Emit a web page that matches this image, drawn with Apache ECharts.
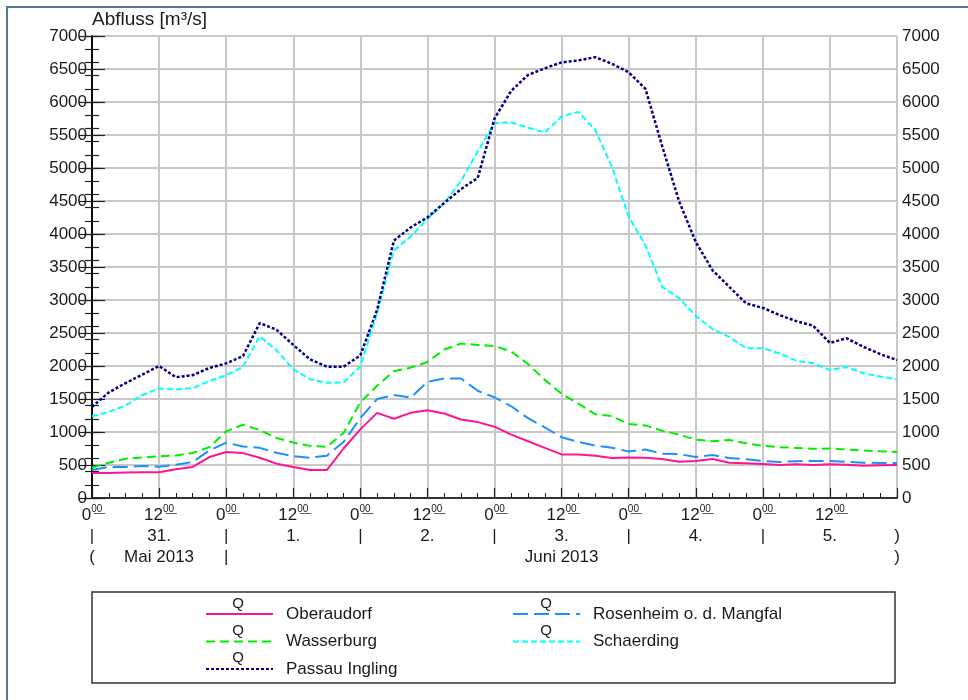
<!DOCTYPE html>
<html><head><meta charset="utf-8">
<script src="https://cdn.jsdelivr.net/npm/echarts@6/dist/echarts.min.js"></script>
<style>html,body{margin:0;padding:0;background:#fff}#c{width:968px;height:700px}</style>
</head><body><div id="c"></div>
<script>
// hours since 31.05.2013 00:00
const hours = [0,3,6,9,12,15,18,21,24,27,30,33,36,39,42,45,48,51,54,57,60,63,66,69,72,75,78,81,84,87,90,93,96,99,102,105,108,111,114,117,120,123,126,129,132,135,138,141,144];

const oberaudorf = [379,379,385,390,390,435,470,620,697,680,610,520,470,424,424,750,1040,1290,1200,1290,1330,1280,1190,1150,1080,960,860,760,660,660,640,606,615,610,590,550,560,590,535,525,515,500,510,500,510,505,490,495,500];
const rosenheim = [424,470,470,485,472,505,545,720,840,780,760,685,635,610,640,850,1210,1500,1560,1520,1760,1810,1810,1625,1525,1390,1210,1070,920,850,795,760,705,735,670,665,621,650,605,588,560,545,558,560,560,548,535,530,530];
const wasserburg = [460,535,595,615,630,645,682,770,1010,1110,1030,910,840,790,775,985,1450,1700,1920,1975,2060,2250,2340,2320,2303,2220,2030,1790,1580,1430,1270,1240,1120,1100,1020,960,885,860,879,830,790,770,758,745,750,735,720,708,697];
const schaerding = [1240,1303,1400,1560,1660,1645,1665,1770,1860,1985,2450,2240,1950,1800,1745,1750,1990,2800,3750,3960,4230,4470,4800,5250,5680,5690,5610,5540,5780,5850,5580,5020,4260,3830,3200,3030,2760,2560,2440,2270,2270,2190,2080,2040,1940,1985,1890,1840,1800];
const passau = [1380,1600,1740,1870,2000,1830,1860,1970,2040,2150,2650,2550,2320,2100,1990,1990,2160,2850,3900,4100,4250,4470,4680,4850,5750,6170,6410,6510,6600,6630,6680,6580,6450,6200,5330,4500,3880,3450,3200,2950,2880,2770,2680,2610,2350,2420,2290,2180,2090];

const seriesNames = ['Oberaudorf','Rosenheim o. d. Mangfal','Wasserburg','Schaerding','Passau Ingling'];
const dayLabels = ['31.','1.','2.','3.','4.','5.'];
const monthLabels = ['Mai 2013','Juni 2013'];
const yTitle = 'Abfluss [m³/s]';
const legendMark = 'Q';

const FONT = 'Liberation Sans, Arial, sans-serif';
const TXT = '#1a1a1a';
const GRIDC = '#c8c8c8';

function pairs(vals){ return hours.map((h,i)=>[h, vals[i]]); }

const chart = echarts.init(document.getElementById('c'), null, {renderer:'canvas'});

const yMajor = (pos, showSplit) => ({
  type:'value', min:0, max:7000, interval:500, position:pos,
  axisLine:{show:true, lineStyle:{color:'#000', width:1.5}},
  axisTick:{show:true, inside:true, length:13, lineStyle:{color:'#222', width:1.2}},
  axisLabel:{show:true, color:TXT, fontSize:17, fontFamily:FONT, margin:5, formatter:(v)=>String(v)},
  splitLine:{show:showSplit, lineStyle:{color:GRIDC, width:2}}
});
const yMinor = (pos) => ({
  type:'value', min:0, max:7000, interval:200, position:pos,
  axisLine:{show:false},
  axisTick:{show:true, inside:true, length:7, lineStyle:{color:'#222', width:1.2}},
  axisLabel:{show:false}, splitLine:{show:false}
});

const xBase = {
  type:'value', min:0, max:144, interval:12, position:'bottom'
};

const legendCommon = {
  orient:'vertical', top:600, itemWidth:67, itemHeight:14, itemGap:9.5,
  itemStyle:{opacity:0},
  textStyle:{fontSize:17, fontFamily:FONT, color:TXT, lineHeight:18, padding:[0,0,0,8]}
};

chart.setOption({
  animation:false,
  backgroundColor:'#fff',
  title:{text:yTitle, left:87, top:5, textStyle:{fontSize:19, fontWeight:'normal', color:TXT, fontFamily:FONT}},
  grid:{left:92, right:71, top:36, bottom:202, containLabel:false},
  xAxis:[
    Object.assign({}, xBase, {
      axisLine:{show:true, lineStyle:{color:GRIDC, width:2}},
      axisTick:{show:true, inside:true, length:10, lineStyle:{color:'#222', width:1.2}},
      minorTick:{show:true, splitNumber:4, length:5, lineStyle:{color:'#222', width:1}},
      splitLine:{show:true, lineStyle:{color:GRIDC, width:2}},
      axisLabel:{show:true, margin:6, color:TXT, fontFamily:FONT, fontSize:17,
        formatter:(v)=> v>=144 ? '' : '{a|'+(v%24)+'}{s|0\u03320\u0332}',
        rich:{a:{fontSize:17, fontFamily:FONT, color:TXT, lineHeight:20, verticalAlign:'bottom'},
              s:{fontSize:10, fontFamily:FONT, color:TXT, lineHeight:20, verticalAlign:'top', padding:[0,0,8,0]}}}
    }),
    Object.assign({}, xBase, {
      offset:22,
      axisLine:{show:false}, axisTick:{show:false}, splitLine:{show:false},
      axisLabel:{show:true, margin:8, color:TXT, fontFamily:FONT, fontSize:17,
        formatter:(v)=>{
          if (v>=144) return ')';
          if (v%24===12) return dayLabels[(v-12)/24];
          return '|';
        }}
    }),
    Object.assign({}, xBase, {
      offset:43,
      axisLine:{show:false}, axisTick:{show:false}, splitLine:{show:false},
      axisLabel:{show:true, margin:8, color:TXT, fontFamily:FONT, fontSize:17,
        formatter:(v)=>{
          if (v===0) return '(';
          if (v===12) return monthLabels[0];
          if (v===24) return '|';
          if (v===84) return monthLabels[1];
          if (v>=144) return ')';
          return '';
        }}
    }),
    Object.assign({}, xBase, {
      position:'top',
      axisLine:{show:true, lineStyle:{color:'#000', width:1.5}},
      axisTick:{show:false}, axisLabel:{show:false}, splitLine:{show:false}
    })
  ],
  yAxis:[ yMajor('left', true), yMinor('left'), yMajor('right', false), yMinor('right') ],
  legend:[
    Object.assign({}, legendCommon, {data:[seriesNames[0], seriesNames[2], seriesNames[4]], left:200}),
    Object.assign({}, legendCommon, {data:[seriesNames[1], seriesNames[3]], left:507})
  ],
  graphic:[
    {type:'rect', silent:true, shape:{x:7, y:7, width:975, height:710}, style:{fill:null, stroke:'#4d7d8c', lineWidth:2}},
    {type:'rect', silent:true, shape:{x:92, y:592, width:803, height:91}, style:{fill:null, stroke:'#333', lineWidth:1.5}},
    {type:'text', silent:true, x:238, y:604, style:{text:legendMark, font:'15px '+FONT, fill:TXT, align:'center', verticalAlign:'middle'}},
    {type:'text', silent:true, x:238, y:631, style:{text:legendMark, font:'15px '+FONT, fill:TXT, align:'center', verticalAlign:'middle'}},
    {type:'text', silent:true, x:238, y:658, style:{text:legendMark, font:'15px '+FONT, fill:TXT, align:'center', verticalAlign:'middle'}},
    {type:'text', silent:true, x:546, y:604, style:{text:legendMark, font:'15px '+FONT, fill:TXT, align:'center', verticalAlign:'middle'}},
    {type:'text', silent:true, x:546, y:631, style:{text:legendMark, font:'15px '+FONT, fill:TXT, align:'center', verticalAlign:'middle'}}
  ],
  series:[
    {name:seriesNames[0], type:'line', data:pairs(oberaudorf), symbol:'none', xAxisIndex:0, yAxisIndex:0,
     itemStyle:{color:'#ff1493'}, lineStyle:{color:'#ff1493', width:2, type:'solid'}},
    {name:seriesNames[1], type:'line', data:pairs(rosenheim), symbol:'none', xAxisIndex:0, yAxisIndex:0,
     itemStyle:{color:'#1e8fff'}, lineStyle:{color:'#1e8fff', width:2, type:[15,6]}},
    {name:seriesNames[2], type:'line', data:pairs(wasserburg), symbol:'none', xAxisIndex:0, yAxisIndex:0,
     itemStyle:{color:'#00ee00'}, lineStyle:{color:'#00ee00', width:2, type:[9,5]}},
    {name:seriesNames[3], type:'line', data:pairs(schaerding), symbol:'none', xAxisIndex:0, yAxisIndex:0,
     itemStyle:{color:'#00ffff'}, lineStyle:{color:'#00ffff', width:2, type:[6,3]}},
    {name:seriesNames[4], type:'line', data:pairs(passau), symbol:'none', xAxisIndex:0, yAxisIndex:0,
     itemStyle:{color:'#000080'}, lineStyle:{color:'#000080', width:2.5, type:[3,2]}}
  ]
});
</script></body></html>
